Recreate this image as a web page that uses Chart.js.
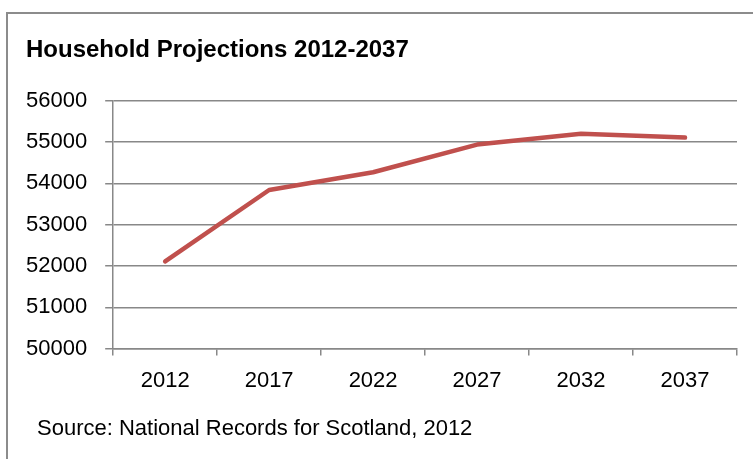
<!DOCTYPE html>
<html>
<head>
<meta charset="utf-8">
<script src="https://cdn.jsdelivr.net/npm/chart.js@4"></script>
<style>
  html, body { margin: 0; padding: 0; background: #fff; overflow: hidden; }
  .wrap { position: relative; width: 753px; height: 459px; }
  .frame {
    position: absolute; left: 6px; top: 12px; width: 800px; height: 500px;
    border: 2px solid #8c8c8c; box-sizing: border-box;
  }
  canvas { position: absolute; left: 0; top: 0; }
  .source {
    position: absolute; left: 37px; top: 415px;
    font: 22px "Liberation Sans", Arial, sans-serif; color: #000; white-space: nowrap;
  }
</style>
</head>
<body>
<div class="wrap">
  <div class="frame"></div>
  <canvas id="chart" width="753" height="459"></canvas>
  <div class="source">Source: National Records for Scotland, 2012</div>
</div>
<script>
// ── Data ──────────────────────────────────────────────────
const years = ['2012', '2017', '2022', '2027', '2032', '2037'];
const households = [52110, 53840, 54270, 54940, 55200, 55110];
const yMin = 50000, yMax = 56000, yStep = 1000;

const FONT = '"Liberation Sans", Arial, sans-serif';
const GRID = '#888888';

// ── Chart ─────────────────────────────────────────────────
const ctx = document.getElementById('chart').getContext('2d');
new Chart(ctx, {
  type: 'line',
  data: {
    labels: years,
    datasets: [{
      label: 'Households',
      data: households,
      borderColor: '#C0504D',
      backgroundColor: '#C0504D',
      borderWidth: 4.5,
      borderCapStyle: 'round',
      borderJoinStyle: 'round',
      tension: 0,
      fill: false,
      pointRadius: 0
    }]
  },
  options: {
    responsive: false,
    animation: false,
    layout: { padding: { top: 0, right: 16, bottom: 53, left: 26 } },
    plugins: {
      legend: { display: false },
      tooltip: { enabled: false },
      title: {
        display: true,
        text: 'Household Projections 2012-2037',
        align: 'start',
        color: '#000',
        font: { family: FONT, size: 24, weight: 'bold' },
        padding: { top: 36, bottom: 36 }
      }
    },
    scales: {
      x: {
        offset: true,
        grid: { offset: true, drawOnChartArea: false, drawTicks: true, tickLength: 7, color: GRID, lineWidth: 1.5 },
        border: { display: true, color: GRID, width: 1.5 },
        ticks: { color: '#000', font: { family: FONT, size: 22 }, padding: 12, maxRotation: 0 }
      },
      y: {
        min: yMin,
        max: yMax,
        grid: { color: GRID, lineWidth: 1.5, tickLength: 8 },
        border: { display: true, color: GRID, width: 1.5 },
        ticks: {
          stepSize: yStep, color: '#000', font: { family: FONT, size: 22 },
          padding: 9, crossAlign: 'far',
          callback: v => String(v)
        }
      }
    }
  }
});
</script>
</body>
</html>
